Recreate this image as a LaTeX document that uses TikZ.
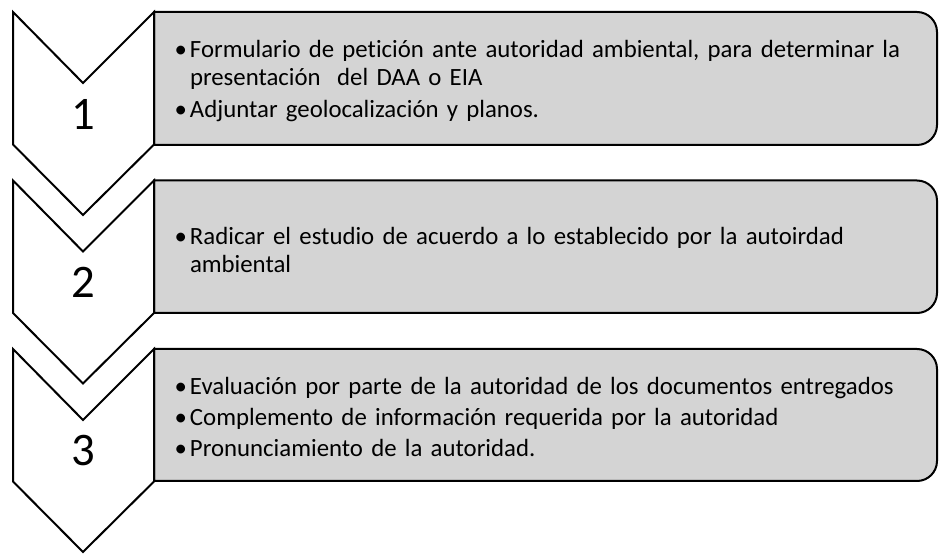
\documentclass[tikz,border=0pt]{standalone}
\usepackage{fontspec}
\setmainfont{Carlito}[Ligatures=NoCommon]
\usepackage{tikz}

\definecolor{panelgray}{RGB}{212,212,212}
\newcommand{\bul}{\par\hangindent=12pt\hangafter=1\noindent\makebox[12pt][l]{\hspace{0.5pt}\textbullet}}

\begin{document}
\begin{tikzpicture}[
    x=0.75pt, y=-0.75pt,
    line width=1.5pt,
    chevron/.style={draw, fill=white, line join=miter},
    panel/.style={draw, fill=panelgray},
    numtext/.style={font=\fontsize{35}{35}\selectfont},
    bullets/.style={anchor=west, inner sep=0pt, text width=580pt, align=left, font=\fontsize{18.6}{21}\selectfont\raggedright\setlength{\parskip}{2.5pt}}
]
\useasboundingbox (0,0) rectangle (951,559);

% Boxes
\draw[panel] (154,145) -- (154,12) [rounded corners=15pt] -- (937,12) -- (937,145) [sharp corners] -- cycle;
\draw[panel] (154,313) -- (154,180.5) [rounded corners=15pt] -- (937,180.5) -- (937,313) [sharp corners] -- cycle;
\draw[panel] (154,481) -- (154,349) [rounded corners=15pt] -- (937,349) -- (937,481) [sharp corners] -- cycle;

% Chevrons
\draw[chevron] (13,12) -- (83,83) -- (154,12) -- (154,144.5) -- (83,215) -- (13,144.5) -- cycle;
\draw[chevron] (13,180.5) -- (83,251.5) -- (154,180.5) -- (154,313) -- (83,383.5) -- (13,313) -- cycle;
\draw[chevron] (13,349) -- (83,420) -- (154,349) -- (154,481.5) -- (83,552) -- (13,481.5) -- cycle;

% Nodes
\node[numtext] (n1) at (83,114) {1};
\node[numtext] (n2) at (83,282.5) {2};
\node[numtext] (n3) at (83,451) {3};

\node[bullets] (t1) at (173,74) {\bul Formulario de petición ante autoridad ambiental, para determinar la\newline presentación\ \ del DAA o EIA
\bul Adjuntar geolocalización y planos.\par};
\node[bullets] (t2) at (173,243) {\bul Radicar el estudio de acuerdo a lo establecido por la autoirdad\newline ambiental\par};
\node[bullets] (t3) at (173,410) {\bul Evaluación por parte de la autoridad de los documentos entregados
\bul Complemento de información requerida por la autoridad
\bul Pronunciamiento de la autoridad.\par};

\end{tikzpicture}
\end{document}
